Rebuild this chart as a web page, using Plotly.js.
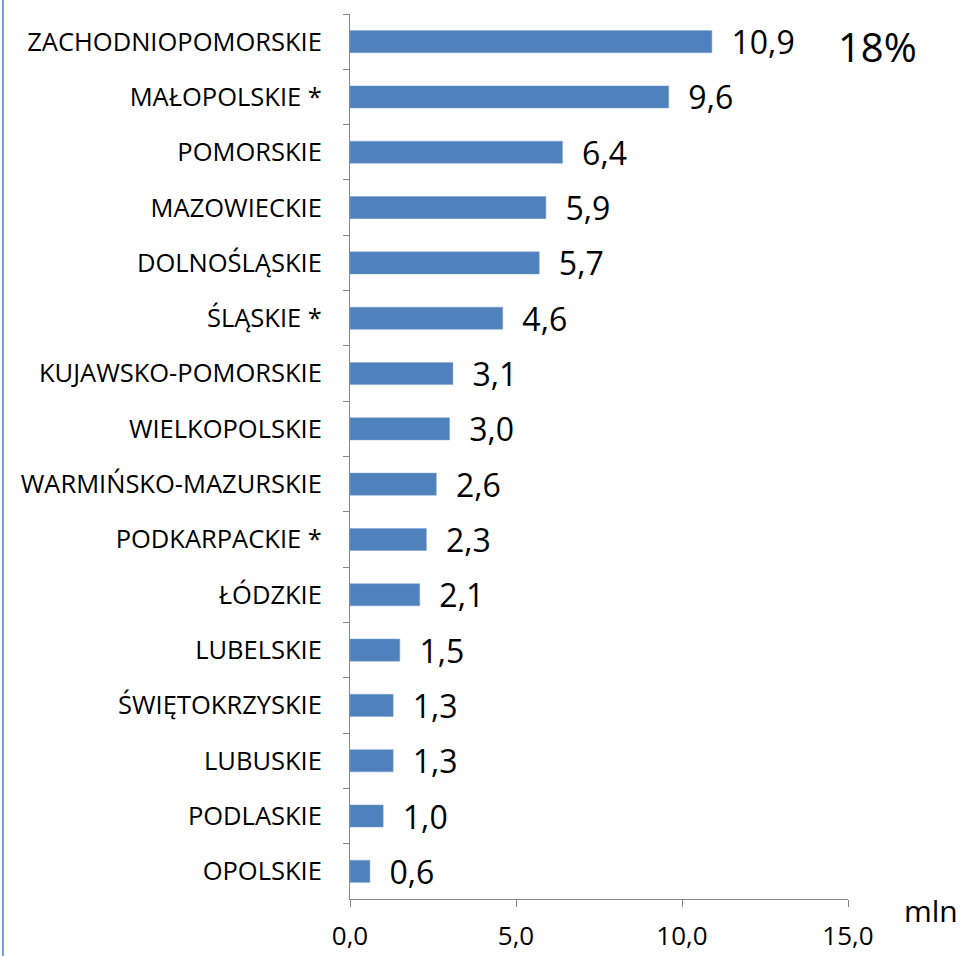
<!DOCTYPE html>
<html><head><meta charset="utf-8">
<script src="https://cdn.plot.ly/plotly-3.0.1.min.js"></script>
<style>html,body{margin:0;padding:0;background:#fff}</style>
</head><body>
<div id="chart" style="width:961px;height:956px"></div>
<script>
const regions = ["ZACHODNIOPOMORSKIE","MAŁOPOLSKIE *","POMORSKIE","MAZOWIECKIE","DOLNOŚLĄSKIE","ŚLĄSKIE *","KUJAWSKO-POMORSKIE","WIELKOPOLSKIE","WARMIŃSKO-MAZURSKIE","PODKARPACKIE *","ŁÓDZKIE","LUBELSKIE","ŚWIĘTOKRZYSKIE","LUBUSKIE","PODLASKIE","OPOLSKIE"];
const values = [10.9,9.6,6.4,5.9,5.7,4.6,3.1,3.0,2.6,2.3,2.1,1.5,1.3,1.3,1.0,0.6];
const xTicks = [0,5,10,15];
const unitLabel = "mln";
const shareLabel = "18%";

const FONT = "Open Sans, Noto Sans, sans-serif";
const trace = {
  type: "bar", orientation: "h",
  x: values, y: regions,
  marker: {color: "#4F81BD", line: {color: "#7FA3D3", width: 0.5}},
  texttemplate: "  %{x:.1f}",
  textposition: "outside",
  constraintext: "none",
  textfont: {family: FONT, size: 32, color: "#000"},
  cliponaxis: false,
  hoverinfo: "none"
};
const layout = {
  width: 961, height: 956,
  margin: {l: 350, r: 113, t: 14, b: 57},
  separators: ", ",
  paper_bgcolor: "#fff", plot_bgcolor: "#fff",
  showlegend: false,
  bargap: 0.6,
  font: {family: FONT, color: "#000"},
  xaxis: {
    range: [0, 15], tickvals: xTicks, tickformat: ".1f",
    showgrid: false, zeroline: false,
    showline: true, linecolor: "#868686", linewidth: 1,
    ticks: "outside", ticklen: 7, tickcolor: "#868686",
    ticklabelstandoff: 7,
    tickfont: {family: FONT, size: 26, color: "#000"}
  },
  yaxis: {
    type: "category", autorange: "reversed",
    showgrid: false, zeroline: false,
    showline: true, linecolor: "#868686", linewidth: 1,
    ticks: "outside", ticklen: 6, tickcolor: "#868686", tickson: "boundaries",
    ticklabelstandoff: 22,
    tickfont: {family: FONT, size: 25.5, color: "#000"}
  },
  annotations: [
    {text: unitLabel, xref: "paper", yref: "paper", x: 1.166, y: -0.013, xanchor: "center", yanchor: "middle", showarrow: false, font: {family: FONT, size: 30, color: "#000"}},
    {text: shareLabel, xref: "paper", yref: "paper", x: 1.06, y: 0.963, xanchor: "center", yanchor: "middle", showarrow: false, font: {family: FONT, size: 40, color: "#000"}}
  ],
  shapes: [
    {type: "line", xref: "paper", yref: "paper", x0: -0.697, x1: -0.697, y0: -0.065, y1: 1.02, line: {color: "#6A9BD8", width: 2}}
  ]
};
Plotly.newPlot("chart", [trace], layout, {displayModeBar: false, staticPlot: true});
</script>
</body></html>
